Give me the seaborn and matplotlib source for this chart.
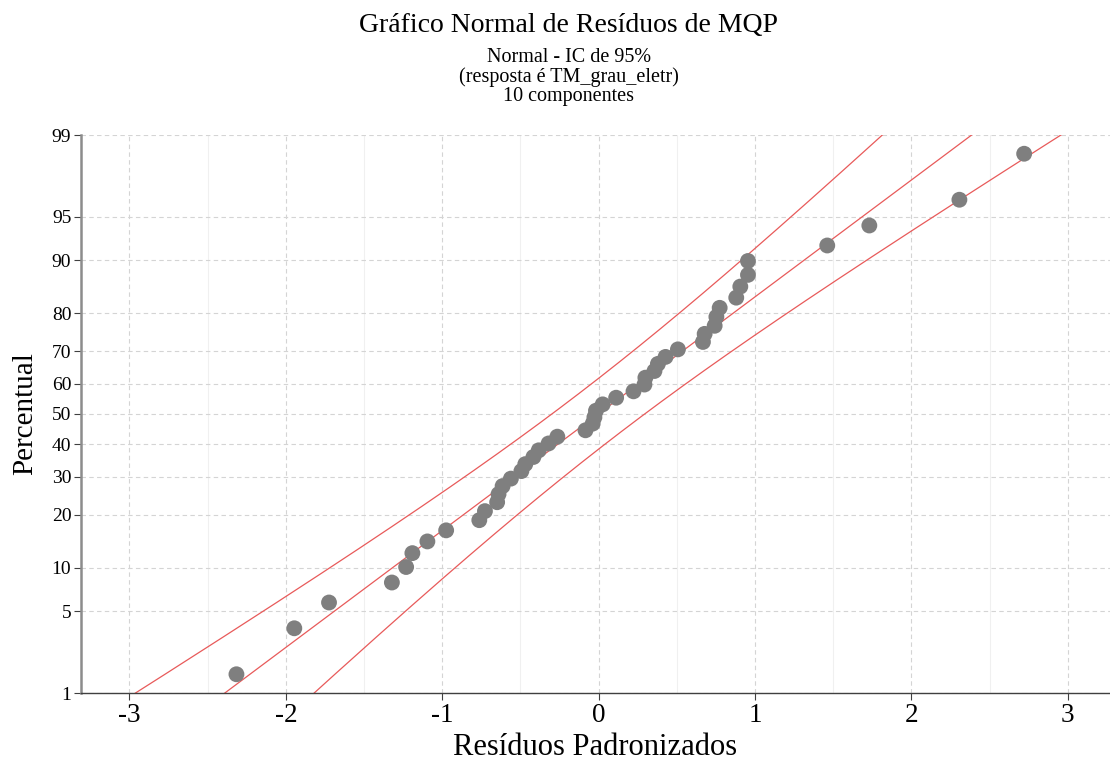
import numpy as np
import pandas as pd
import seaborn as sns
import matplotlib
matplotlib.use('Agg')
import matplotlib.pyplot as plt
from matplotlib.ticker import FixedLocator, MultipleLocator
from statistics import NormalDist

# standardized residuals, sorted
residuos = [-2.316, -1.946, -1.724, -1.322, -1.231, -1.191, -1.095, -0.975,
            -0.763, -0.727, -0.649, -0.640, -0.614, -0.561, -0.494, -0.469,
            -0.417, -0.383, -0.320, -0.264, -0.084, -0.038, -0.027, -0.017,
            0.026, 0.112, 0.223, 0.293, 0.299, 0.357, 0.379, 0.428,
            0.507, 0.667, 0.678, 0.742, 0.753, 0.774, 0.880, 0.906,
            0.955, 0.955, 1.462, 1.731, 2.307, 2.721]
# percent positions of the points
percentual = [1.5, 3.7, 5.8, 8.0, 10.1, 12.3, 14.4, 16.6, 18.8, 20.9,
              23.1, 25.2, 27.4, 29.5, 31.7, 33.8, 36.0, 38.1, 40.3, 42.5,
              44.6, 46.8, 48.9, 51.1, 53.2, 55.4, 57.5, 59.7, 61.9, 64.0,
              66.2, 68.3, 70.5, 72.6, 74.8, 76.9, 79.1, 81.2, 83.4, 85.6,
              87.7, 89.9, 92.0, 94.2, 96.3, 98.5]
y_ticks = [1, 5, 10, 20, 30, 40, 50, 60, 70, 80, 90, 95, 99]
x_ticks = [-3, -2, -1, 0, 1, 2, 3]

nd = NormalDist()


def prob_fwd(p):
    p = np.clip(np.asarray(p, dtype=float), 1e-4, 100 - 1e-4)
    return np.vectorize(lambda v: nd.inv_cdf(v / 100.0), otypes=[float])(p)


def prob_inv(z):
    z = np.asarray(z, dtype=float)
    return np.vectorize(lambda v: nd.cdf(v) * 100.0, otypes=[float])(z)


df = pd.DataFrame({'residuo': residuos, 'percentual': percentual})

# normal fit + 95% confidence band for the percentiles
n = len(df)
mu = df['residuo'].mean()
sigma = df['residuo'].std()
p_grid = np.linspace(0.5, 99.5, 300)
z_grid = prob_fwd(p_grid)
x_fit = mu + sigma * z_grid
half = 1.96 * sigma * np.sqrt(1.0 / n + z_grid ** 2 / (2.0 * n))

sns.set_theme(style='white')
plt.rcParams['font.family'] = ['Liberation Serif', 'DejaVu Serif']
plt.rcParams['text.color'] = 'black'
plt.rcParams['axes.labelcolor'] = 'black'
plt.rcParams['xtick.labelcolor'] = 'black'
plt.rcParams['ytick.labelcolor'] = 'black'

fig = plt.figure(figsize=(11.1, 7.67), dpi=100)
ax = fig.add_axes([81 / 1110, 1 - 693 / 767, 1 - 81 / 1110, (693 - 135) / 767])
ax.set_yscale('function', functions=(prob_fwd, prob_inv))

red = '#e85a5a'
ax.plot(x_fit, p_grid, color=red, lw=0.9, zorder=2)
ax.plot(x_fit - half, p_grid, color=red, lw=0.9, zorder=2)
ax.plot(x_fit + half, p_grid, color=red, lw=0.9, zorder=2)

sns.scatterplot(data=df, x='residuo', y='percentual', ax=ax, s=130,
                color='#7f7f7f', edgecolor='none', zorder=3)

ax.set_xlim(-3.31, 3.27)
ax.set_ylim(1, 99)
ax.yaxis.set_major_locator(FixedLocator(y_ticks))
ax.yaxis.set_minor_locator(FixedLocator([]))
ax.set_yticklabels([str(t) for t in y_ticks])
ax.xaxis.set_major_locator(FixedLocator(x_ticks))
ax.xaxis.set_minor_locator(MultipleLocator(0.5))
ax.set_xticklabels([str(t) for t in x_ticks])

ax.grid(True, which='major', axis='both', color='#d4d4d4', ls=(0, (4, 3)), lw=0.8)
ax.grid(True, which='minor', axis='x', color='#f0f0f0', ls='-', lw=0.8)
ax.set_axisbelow(True)

for side in ['top', 'right']:
    ax.spines[side].set_visible(False)
ax.spines['left'].set_color('#8c8c8c')
ax.spines['left'].set_linewidth(1.8)
ax.spines['bottom'].set_color('#404040')
ax.spines['bottom'].set_linewidth(1.0)

ax.tick_params(axis='x', which='major', direction='out', length=5, width=0.8,
               color='#404040', labelsize=19.5, pad=2, bottom=True)
ax.tick_params(axis='x', which='minor', length=0)
ax.tick_params(axis='y', which='major', direction='out', length=5, width=0.8,
               color='#404040', labelsize=14, pad=2, left=True)

ax.set_xlabel('Resíduos Padronizados', fontsize=22, labelpad=4)
ax.set_ylabel('Percentual', fontsize=21, labelpad=10)

fig.text(0.5126, 1 - 32 / 767, 'Gráfico Normal de Resíduos de MQP',
         ha='center', va='baseline', fontsize=20)
fig.text(0.5126, 1 - 62 / 767, 'Normal - IC de 95%', ha='center', va='baseline', fontsize=14.5)
fig.text(0.5126, 1 - 82 / 767, '(resposta é TM_grau_eletr)', ha='center', va='baseline', fontsize=14.5)
fig.text(0.5126, 1 - 101 / 767, '10 componentes', ha='center', va='baseline', fontsize=14.5)

fig.savefig('out.png', dpi=100)
